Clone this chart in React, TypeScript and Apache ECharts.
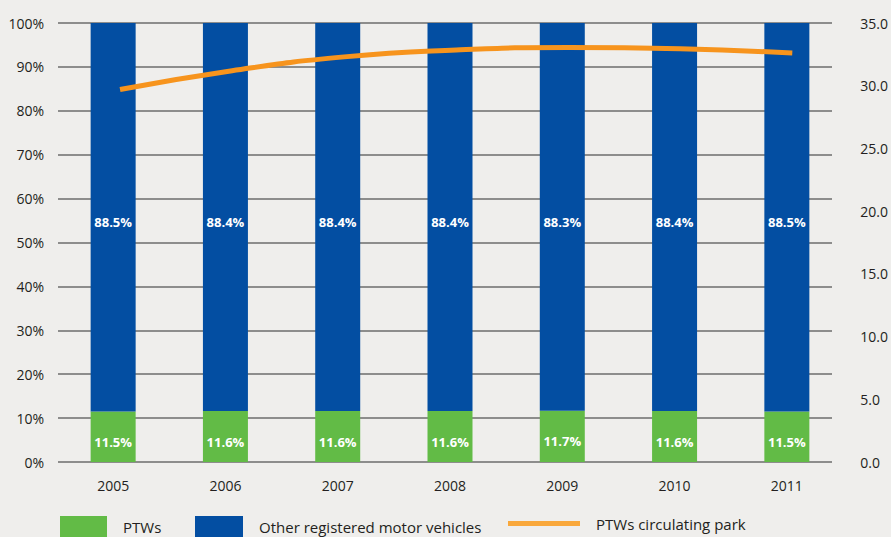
import React, { useEffect, useRef } from "react";
import * as echarts from "echarts";

const years = ["2005", "2006", "2007", "2008", "2009", "2010", "2011"];
const ptwShare = [11.5, 11.6, 11.6, 11.6, 11.7, 11.6, 11.5];
const otherShare = [88.5, 88.4, 88.4, 88.4, 88.3, 88.4, 88.5];
const circulatingPark = [29.7, 31.2, 32.3, 32.85, 33.05, 32.95, 32.6];
const leftTicks = [0, 100, 10];
const rightTicks = [0, 35, 5];

const FONT = "'Open Sans', 'Noto Sans', sans-serif";
const TXT = "#231f20";
const GREEN = "#62bb46";
const BLUE = "#034ea2";
const ORANGE = "#f7941d";

export default function App() {
  const ref = useRef<HTMLDivElement>(null);
  useEffect(() => {
    if (!ref.current) return;
    const chart = echarts.init(ref.current, null, { renderer: "svg" });
    const barLabel = {
      show: true,
      position: "inside",
      offset: [0, 5],
      color: "#ffffff",
      fontWeight: "bold",
      fontSize: 13,
      fontFamily: FONT,
      formatter: (p: any) => p.value.toFixed(1) + "%",
    };
    const legendBase = {
      top: 516,
      padding: 0,
      itemHeight: 22,
      textStyle: { color: TXT, fontSize: 15, fontFamily: FONT, padding: [0, 0, 0, 11] },
      selectedMode: false,
    };
    chart.setOption({
      animation: false,
      backgroundColor: "#efeeec",
      textStyle: { fontFamily: FONT },
      grid: [
        { left: 57, right: 48, top: 23, bottom: 75 },
        { left: 58, right: 59, top: 23, bottom: 75 },
        { left: 64, right: 41, top: 23, bottom: 75 },
      ],
      legend: [
        { ...legendBase, left: 60, itemWidth: 47, icon: "rect", data: ["PTWs"] },
        { ...legendBase, left: 195, itemWidth: 48, icon: "rect", data: ["Other registered motor vehicles"] },
        {
          ...legendBase,
          left: 508,
          itemWidth: 72,
          data: [
            {
              name: "PTWs circulating park",
              icon: "path://M0,0 L72,0 L72,5 L0,5 Z",
              itemStyle: { color: "#f9a83c" },
            },
          ],
        },
      ],
      xAxis: [
        {
          type: "category",
          gridIndex: 0,
          data: years,
          axisLine: { show: false },
          axisTick: { show: false },
          axisLabel: { color: TXT, fontSize: 14, fontFamily: FONT, margin: 16 },
        },
        { type: "value", gridIndex: 1, show: false, min: 0, max: 1 },
        { type: "category", gridIndex: 2, data: years, show: false },
      ],
      yAxis: [
        {
          type: "value",
          gridIndex: 0,
          min: leftTicks[0],
          max: leftTicks[1],
          interval: leftTicks[2],
          axisLine: { show: false },
          axisTick: { show: false },
          splitLine: { show: false },
          axisLabel: { color: TXT, fontSize: 14, fontFamily: FONT, margin: 13, formatter: "{value}%" },
        },
        {
          type: "value",
          gridIndex: 1,
          min: leftTicks[0],
          max: leftTicks[1],
          interval: leftTicks[2],
          axisLine: { show: false },
          axisTick: { show: false },
          axisLabel: { show: false },
          splitLine: { show: true, lineStyle: { color: "#6d6d6d", width: 1.5 } },
        },
        {
          type: "value",
          gridIndex: 2,
          position: "right",
          min: rightTicks[0],
          max: rightTicks[1],
          interval: rightTicks[2],
          axisLine: { show: false },
          axisTick: { show: false },
          splitLine: { show: false },
          axisLabel: {
            color: TXT,
            fontSize: 14,
            fontFamily: FONT,
            margin: 12,
            formatter: (v: number) => v.toFixed(1),
          },
        },
      ],
      series: [
        {
          name: "PTWs",
          type: "bar",
          stack: "share",
          xAxisIndex: 0,
          yAxisIndex: 0,
          barWidth: 45,
          data: ptwShare,
          itemStyle: { color: GREEN },
          label: barLabel,
          z: 3,
        },
        {
          name: "Other registered motor vehicles",
          type: "bar",
          stack: "share",
          xAxisIndex: 0,
          yAxisIndex: 0,
          barWidth: 45,
          data: otherShare,
          itemStyle: { color: BLUE },
          label: barLabel,
          z: 3,
        },
        {
          name: "PTWs circulating park",
          type: "line",
          xAxisIndex: 2,
          yAxisIndex: 2,
          data: circulatingPark,
          smooth: true,
          symbol: "none",
          lineStyle: { color: ORANGE, width: 5 },
          itemStyle: { color: ORANGE },
          z: 5,
        },
      ],
    });
    return () => chart.dispose();
  }, []);
  return (
    <div
      ref={ref}
      style={{ position: "fixed", left: 0, top: 0, width: 891, height: 537 }}
    />
  );
}
